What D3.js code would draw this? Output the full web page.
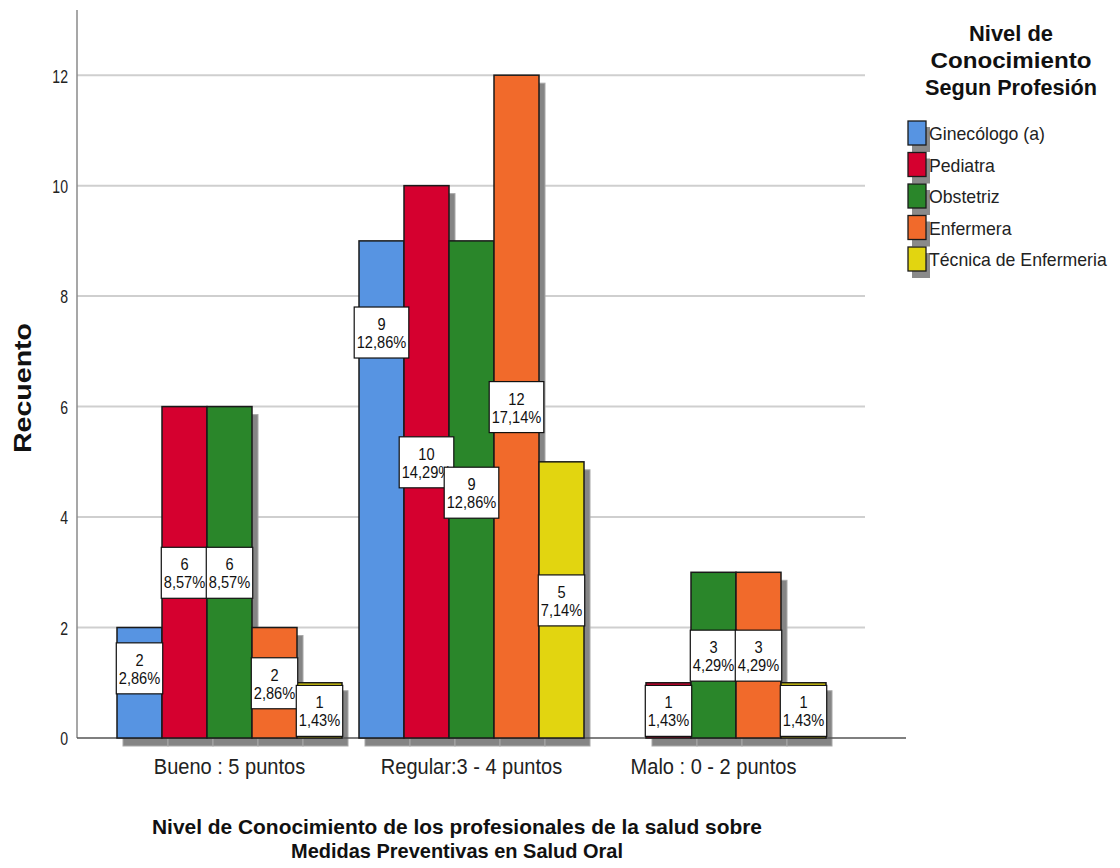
<!DOCTYPE html>
<html><head><meta charset="utf-8">
<script src="https://cdn.jsdelivr.net/npm/d3@7"></script>
<style>
body{margin:0;background:#fff;}
svg{display:block;}
.nar{font-family:"Liberation Sans",Arial,sans-serif;}
.bold{font-family:"Liberation Sans",Arial,sans-serif;font-weight:bold;}
</style></head>
<body>
<svg id="chart" width="1120" height="868"></svg>
<script>
const categories = ["Bueno : 5 puntos", "Regular:3 - 4 puntos", "Malo : 0 - 2 puntos"];
const seriesNames = ["Ginecólogo (a)", "Pediatra", "Obstetriz", "Enfermera", "Técnica de Enfermeria"];
const ginecologo = [2, 9, 0];
const pediatra = [6, 10, 1];
const obstetriz = [6, 9, 3];
const enfermera = [2, 12, 3];
const tecnica = [1, 5, 1];
const yTicks = [0, 2, 4, 6, 8, 10, 12];
const colors = ["#5794e2", "#d5002f", "#2a862a", "#f16a2b", "#e2d510"];

const seriesValues = [ginecologo, pediatra, obstetriz, enfermera, tecnica];
const total = d3.sum(seriesValues.flat());

const svg = d3.select("#chart");
const plotLeft = 77, plotBottom = 738, plotTop = 10;

// condense text horizontally (reference uses a narrow rendering)
function condense(sel, f) {
  sel.each(function() {
    const L = this.getComputedTextLength();
    d3.select(this).attr("textLength", L * f).attr("lengthAdjust", "spacingAndGlyphs");
  });
}

const y = d3.scaleLinear().domain([0, 13.18]).range([plotBottom, plotTop]);
const pi = 17 / 242;
const x0 = d3.scaleBand().domain(categories).range([108.5, 834.5]).paddingInner(pi).paddingOuter(pi / 2);
const x1 = d3.scaleBand().domain(seriesNames).range([0, x0.bandwidth()]).padding(0);

// gridlines
svg.append("g").selectAll("line").data(yTicks.filter(t => t > 0)).join("line")
  .attr("x1", plotLeft).attr("x2", 865)
  .attr("y1", d => y(d)).attr("y2", d => y(d))
  .attr("stroke", "#cfcfcf").attr("stroke-width", 2);

// y axis
const yAxis = d3.axisLeft(y).tickValues(yTicks).tickSize(0).tickPadding(9).tickFormat(d3.format("d"));
const ya = svg.append("g").attr("transform", `translate(${plotLeft},0)`).call(yAxis);
ya.select(".domain").remove();
ya.selectAll("text").attr("class", "nar").attr("font-size", 19).attr("fill", "#222").attr("dy", "0.36em").call(condense, 0.74);
svg.append("line").attr("x1", plotLeft).attr("x2", plotLeft).attr("y1", plotTop).attr("y2", plotBottom)
  .attr("stroke", "#8a8a8a").attr("stroke-width", 1.5);

// flatten data
const bars = [];
categories.forEach((c, ci) => {
  seriesNames.forEach((s, si) => {
    bars.push({cat: c, ser: s, si, ci, v: seriesValues[si][ci]});
  });
});
const drawn = bars.filter(d => d.v > 0);

// shadows
const sdx = 6, sdy = 8;
svg.append("g").selectAll("rect").data(drawn).join("rect")
  .attr("x", d => x0(d.cat) + x1(d.ser) + sdx)
  .attr("y", d => y(d.v) + sdy)
  .attr("width", x1.bandwidth())
  .attr("height", d => plotBottom - y(d.v))
  .attr("fill", "#858585").attr("stroke", "#a8a8a8").attr("stroke-width", 1);

// x baseline
svg.append("line").attr("x1", plotLeft).attr("x2", 906).attr("y1", plotBottom).attr("y2", plotBottom)
  .attr("stroke", "#555").attr("stroke-width", 1.5);

// bars
svg.append("g").selectAll("rect").data(drawn).join("rect")
  .attr("x", d => x0(d.cat) + x1(d.ser))
  .attr("y", d => y(d.v))
  .attr("width", x1.bandwidth())
  .attr("height", d => plotBottom - y(d.v))
  .attr("fill", d => colors[d.si]).attr("stroke", "#1a1a1a").attr("stroke-width", 1.5);

// labels
const fmtPct = v => (v / total * 100).toFixed(2).replace(".", ",") + "%";
// label position (in value units) where default mid-bar placement would collide
const labelPos = (d) => {
  if (d.ci === 0 && d.si === 0) return 1.27;
  if (d.ci === 1 && d.si === 0) return 7.35;
  if (d.ci === 1 && d.si === 2) return 4.45;
  return d.v / 2;
};
const lg = svg.append("g");
drawn.forEach(d => {
  const cx = x0(d.cat) + x1(d.ser) + x1.bandwidth() / 2;
  const cy = y(labelPos(d));
  const g = lg.append("g");
  const rect = g.append("rect");
  const t1 = g.append("text").attr("class", "nar").attr("x", cx).attr("y", cy - 2)
    .attr("text-anchor", "middle").attr("font-size", 17).attr("fill", "#111").text(d.v).call(condense, 0.86);
  const t2 = g.append("text").attr("class", "nar").attr("x", cx).attr("y", cy + 16)
    .attr("text-anchor", "middle").attr("font-size", 17).attr("fill", "#111").text(fmtPct(d.v)).call(condense, 0.86);
  const w = Math.max(+t1.attr("textLength"), +t2.attr("textLength")) + 5;
  rect.attr("x", cx - w / 2).attr("y", cy - 25).attr("width", w).attr("height", 51)
    .attr("fill", "#fff").attr("stroke", "#111").attr("stroke-width", 1.2);
});

// x axis category labels
svg.append("g").selectAll("text").data(categories).join("text")
  .attr("class", "nar")
  .attr("x", d => x0(d) + x0.bandwidth() / 2).attr("y", 774)
  .attr("text-anchor", "middle").attr("font-size", 22).attr("fill", "#222").text(d => d)
  .call(condense, 0.91);

// x axis title
const xt = svg.append("text").attr("class", "bold").attr("text-anchor", "middle")
  .attr("font-size", 21).attr("fill", "#111").attr("transform", "translate(457,0)");
xt.append("tspan").attr("x", 0).attr("y", 834).attr("textLength", 610).attr("lengthAdjust", "spacingAndGlyphs")
  .text("Nivel de Conocimiento de los profesionales de la salud sobre");
xt.append("tspan").attr("x", 0).attr("y", 858).attr("textLength", 332).attr("lengthAdjust", "spacingAndGlyphs")
  .text("Medidas Preventivas en Salud Oral");

// y axis title
svg.append("text").attr("class", "bold").attr("font-size", 23).attr("fill", "#111")
  .attr("text-anchor", "middle").attr("transform", "translate(31,388) rotate(-90)")
  .attr("textLength", 130).attr("lengthAdjust", "spacingAndGlyphs").text("Recuento");

// legend
const legTitle = ["Nivel de", "Conocimiento", "Segun Profesión"];
svg.append("g").selectAll("text").data(legTitle).join("text")
  .attr("class", "bold").attr("x", 1011).attr("y", (d, i) => 41 + i * 27)
  .attr("text-anchor", "middle").attr("font-size", 22).attr("fill", "#111")
  .attr("textLength", (d, i) => [84, 161, 172][i]).attr("lengthAdjust", "spacingAndGlyphs")
  .text(d => d);
const leg = svg.append("g");
seriesNames.forEach((s, i) => {
  const yy = 121 + i * 31.5;
  leg.append("rect").attr("x", 912).attr("y", yy + 6).attr("width", 18).attr("height", 25).attr("fill", "#8a8a8a");
  leg.append("rect").attr("x", 908).attr("y", yy).attr("width", 18).attr("height", 24)
    .attr("fill", colors[i]).attr("stroke", "#1a1a1a").attr("stroke-width", 1.3);
  leg.append("text").attr("class", "nar").attr("x", 929).attr("y", yy + 19)
    .attr("font-size", 19).attr("fill", "#222").text(s).call(condense, 0.93);
});
</script>
</body></html>
